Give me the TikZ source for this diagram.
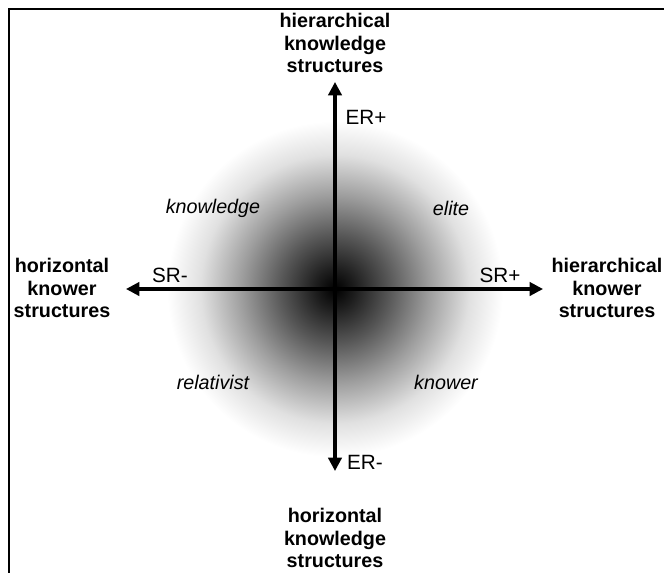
\documentclass[tikz,border=0pt]{standalone}
\usepackage{fontspec}
\setmainfont{Liberation Sans}
\usetikzlibrary{arrows.meta,positioning}

% soft dark spot behind the axes
\pgfdeclareradialshading{glow}{\pgfpoint{0bp}{0bp}}{color(0bp)=(black); color(3bp)=(black!88); color(8bp)=(black!66); color(14bp)=(black!38); color(20bp)=(black!12); color(25bp)=(white); color(50bp)=(white)}

\begin{document}
\begin{tikzpicture}[x=0.75pt,y=0.75pt,yscale=-1,xscale=1,
  pole/.style={font=\fontsize{14.8}{17.2}\selectfont\bfseries,align=center,inner sep=0.75pt},
  code/.style={font=\fontsize{15.5}{18}\selectfont,inner sep=0.75pt},
  zone/.style={font=\fontsize{14.8}{17}\selectfont\itshape,inner sep=0.75pt},
  axis/.style={line width=2.3pt,-{Triangle[length=10pt,width=10pt]}}]
\useasboundingbox (0,0) rectangle (664,572);

%Shape: frame (cut at right and bottom)
\draw [line width=1.8pt] (9,580) -- (9,9) -- (670,9) ;
%Shape: shaded spot
\shade [shading=glow] (335,289) circle (168) ;

% Axis end points
\coordinate (o) at (335,289);
\coordinate (up) at (335,82);
\coordinate (down) at (335,471);
\coordinate (left) at (126,289);
\coordinate (right) at (543,289);

%Straight Lines
\draw [axis] (o) -- (up) ;
\draw [axis] (o) -- (down) ;
\draw [axis] (o) -- (left) ;
\draw [axis] (o) -- (right) ;

% Text Node
\node [pole] (hks) at (335,43) {hierarchical\\knowledge\\structures};
% Text Node
\node [pole] (xks) at (335,538) {horizontal\\knowledge\\structures};
% Text Node
\node [pole] (xkr) at (62,288) {horizontal\\knower\\structures};
% Text Node
\node [pole] (hkr) at (607,288) {hierarchical\\knower\\structures};

% Text Node
\node [code] (erp) at (366,117) {ER+};
% Text Node
\node [code] (erm) at (365,462) {ER-};
% Text Node
\node [code] (srm) at (170,275) {SR-};
% Text Node
\node [code] (srp) at (500,275) {SR+};

% Text Node
\node [zone] (know) at (213,208) {knowledge};
% Text Node
\node [zone] (elite) at (451,208) {elite};
% Text Node
\node [zone] (rel) at (213,382) {relativist};
% Text Node
\node [zone] (kwr) at (446,382) {knower};

\end{tikzpicture}
\end{document}
